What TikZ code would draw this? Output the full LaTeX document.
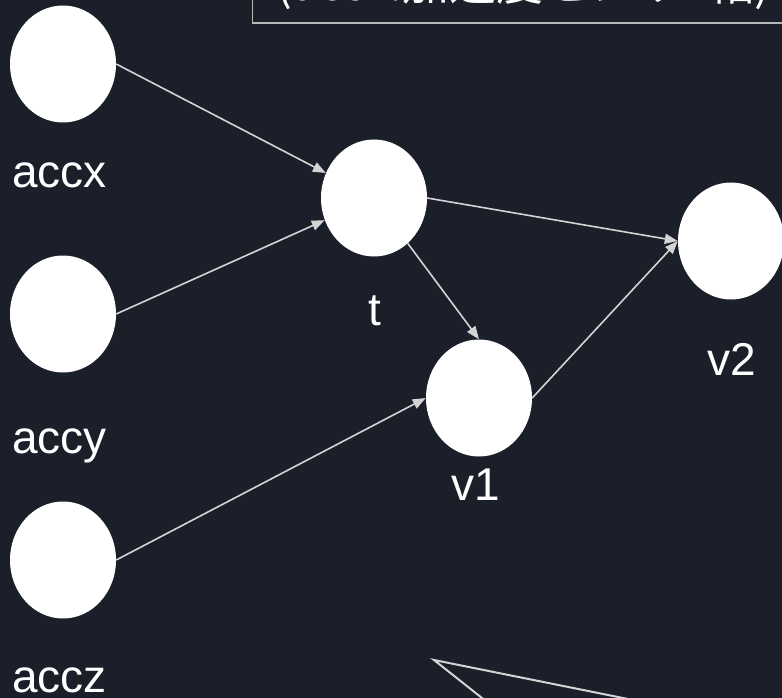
\documentclass[tikz,border=0pt]{standalone}
\usepackage{fontspec}
\setmainfont{Liberation Sans}
\newfontfamily\cjk{Noto Sans CJK JP}
\usetikzlibrary{shapes.geometric,arrows.meta,calc}

\definecolor{bgdark}{HTML}{1B1F2A}
\definecolor{linegray}{HTML}{D4D4D4}
\definecolor{boxgray}{HTML}{B8B8B8}

\tikzset{
  unit/.style={ellipse, fill=white, draw=none, minimum width=106pt, minimum height=117pt, inner sep=0pt},
  lbl/.style={text=white, font=\fontsize{46}{55}\selectfont, inner sep=0pt, anchor=base},
  link/.style={draw=linegray, line width=1.6pt, -{Triangle[length=13pt,width=10pt]}},
  outline/.style={draw=linegray, line width=2pt},
}

\begin{document}
\begin{tikzpicture}[x=1pt, y=-1pt]
  \useasboundingbox (0,0) rectangle (782,698);
  \fill[bgdark] (0,0) rectangle (782,698);
  \clip (0,0) rectangle (782,698);

  % caption box running off the top edge
  \draw[boxgray, line width=1.5pt] (252.7,-120) rectangle (900,23);
  \node[lbl, anchor=base west, font=\cjk\fontsize{47}{56}\selectfont] (cap) at (276,1) {(accx:加速度センサx軸)};

  % units
  \node[unit] (accx) at (63,64) {};
  \node[unit] (accy) at (63,314) {};
  \node[unit] (accz) at (63,560) {};
  \node[unit] (t)    at (374,198) {};
  \node[unit] (v1)   at (479,398) {};
  \node[unit] (v2)   at (731,241) {};

  % labels
  \node[lbl, anchor=base west] (laccx) at (12,187) {accx};
  \node[lbl, anchor=base west] (laccy) at (12,453) {accy};
  \node[lbl, anchor=base west] (laccz) at (12,692) {accz};
  \node[lbl] (lt)  at (375,325) {t};
  \node[lbl] (lv1) at (476,500) {v1};
  \node[lbl] (lv2) at (732,375) {v2};

  % connections
  \draw[link] (accx.east) -- (t);
  \draw[link] (accy.east) -- (t);
  \draw[link] (accz.east) -- (v1.west);
  \draw[link] (t) -- (v1.north);
  \draw[link] (t.east) -- (v2.west);
  \draw[link] (v1.east) -- (v2.west);

  % pointer of a shape below the lower edge
  \coordinate (tip) at (434,660);
  \draw[outline, line join=miter] ($(tip)+(62.4,49.4)$) -- (tip) -- ($(tip)+(245.7,49.4)$);
\end{tikzpicture}
\end{document}
